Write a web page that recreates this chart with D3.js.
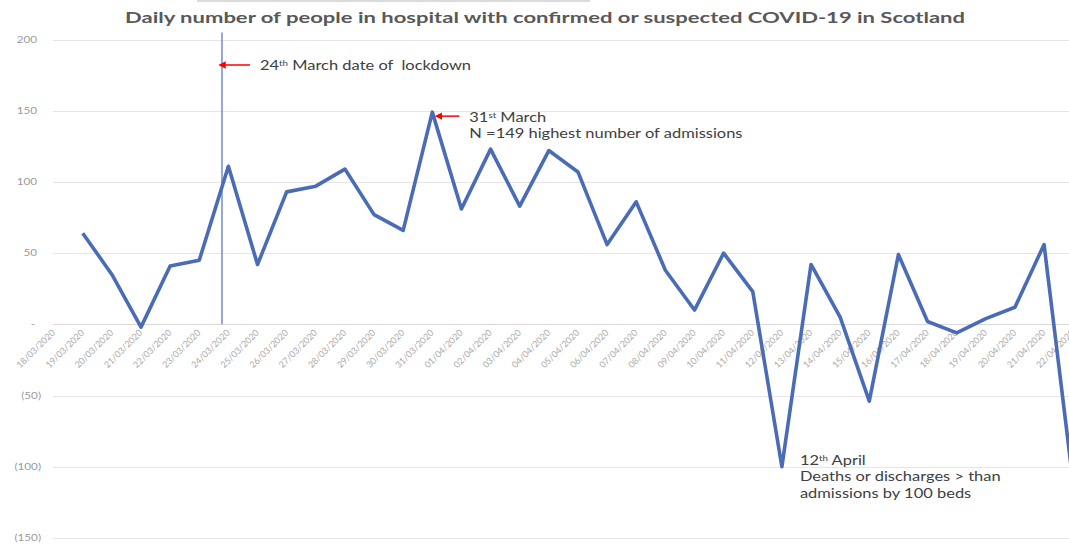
<!DOCTYPE html>
<html>
<head>
<meta charset="utf-8">
<script src="https://cdn.jsdelivr.net/npm/d3@7"></script>
<style>
  body { margin: 0; background: #fff; }
  svg { display: block; font-family: Lato, "Open Sans", sans-serif; }
</style>
</head>
<body>
<svg id="chart" width="1069" height="544"></svg>
<script>
// Dates on the category axis (18/03 has no value)
const dates = [
  '18/03/2020', '19/03/2020', '20/03/2020', '21/03/2020', '22/03/2020', '23/03/2020',
  '24/03/2020', '25/03/2020', '26/03/2020', '27/03/2020', '28/03/2020', '29/03/2020',
  '30/03/2020', '31/03/2020', '01/04/2020', '02/04/2020', '03/04/2020', '04/04/2020',
  '05/04/2020', '06/04/2020', '07/04/2020', '08/04/2020', '09/04/2020', '10/04/2020',
  '11/04/2020', '12/04/2020', '13/04/2020', '14/04/2020', '15/04/2020', '16/04/2020',
  '17/04/2020', '18/04/2020', '19/04/2020', '20/04/2020', '21/04/2020', '22/04/2020'
];

// Daily change in hospital beds
const beds = [
  null, 64, 35, -2, 41, 45,
  111, 42, 93, 97, 109, 77,
  66, 149, 81, 123, 83, 122,
  107, 56, 86, 38, 10, 50,
  23, -100, 42, 5, -54, 49,
  2, -6, 4, 12, 56, -112
];

const yTicks = [200, 150, 100, 50, 0, -50, -100, -150];

const svg = d3.select('#chart');
const W = 1069;
const PLOT_LEFT = 53;
const STRETCH = 1.22; // the source picture is stretched sideways

const x = d3.scalePoint()
  .domain(dates)
  .range([53.6, 1073.2]);

const y = d3.scaleLinear()
  .domain([-150, 200])
  .range([537.9, 39.5]);

// faint border remnant at the top
svg.append('line')
  .attr('x1', 197).attr('x2', 590)
  .attr('y1', 1).attr('y2', 1)
  .attr('stroke', '#cfcfcf')
  .attr('stroke-width', 1.5);

// Title
svg.append('text')
  .attr('x', 125)
  .attr('y', 23)
  .attr('textLength', 840)
  .attr('lengthAdjust', 'spacingAndGlyphs')
  .style('font-size', '16px')
  .style('font-weight', 'bold')
  .style('fill', '#595959')
  .text('Daily number of people in hospital with confirmed or suspected COVID-19 in Scotland');

// Gridlines
svg.append('g')
  .selectAll('line')
  .data(yTicks)
  .join('line')
  .attr('x1', PLOT_LEFT)
  .attr('x2', W)
  .attr('y1', d => Math.round(y(d)) + 0.5)
  .attr('y2', d => Math.round(y(d)) + 0.5)
  .attr('stroke', d => d === 0 ? '#d9d9d9' : '#e6e6e6')
  .attr('stroke-width', 1);

// Y labels, accounting-style format
const fmtY = d => d === 0 ? '-' : d < 0 ? `(${Math.abs(d)})` : `${d}`;
svg.append('g')
  .selectAll('text')
  .data(yTicks)
  .join('text')
  .attr('transform', d => `translate(${d === 0 ? 35 : d < 0 ? 41 : 37},${y(d)}) scale(1.3,1)`)
  .attr('dy', '0.35em')
  .attr('text-anchor', 'end')
  .style('font-size', '9px')
  .style('fill', '#9a9a9a')
  .text(fmtY);

// X labels rotated
svg.append('g')
  .selectAll('text')
  .data(dates)
  .join('text')
  .attr('transform', d => `translate(${x(d) + 2},${y(0) + 9}) rotate(-45)`)
  .attr('text-anchor', 'end')
  .style('font-size', '9px')
  .style('fill', '#ababab')
  .text(d => d);

// Lockdown marker line
const lockX = x('24/03/2020') - 0.22 * x.step();
svg.append('line')
  .attr('x1', lockX).attr('x2', lockX)
  .attr('y1', y(188) - 24).attr('y2', y(0))
  .attr('stroke', '#6f8fcf')
  .attr('stroke-width', 1.5);

// Data line
const line = d3.line()
  .defined(d => d != null)
  .x((d, i) => x(dates[i]))
  .y(d => y(d));

svg.append('path')
  .datum(beds)
  .attr('d', line)
  .attr('fill', 'none')
  .attr('stroke', '#4a6cb6')
  .attr('stroke-width', 3.6)
  .attr('stroke-linejoin', 'round');

// Red arrows
svg.append('defs').append('marker')
  .attr('id', 'arrow')
  .attr('viewBox', '0 0 10 10')
  .attr('refX', 1).attr('refY', 5)
  .attr('markerWidth', 5).attr('markerHeight', 5)
  .attr('orient', 'auto-start-reverse')
  .append('path')
  .attr('d', 'M0,0 L10,5 L0,10 z')
  .attr('fill', '#ff0000');

function arrow(x1, x2, yy) {
  svg.append('line')
    .attr('x1', x1).attr('x2', x2)
    .attr('y1', yy).attr('y2', yy)
    .attr('stroke', '#ff0000')
    .attr('stroke-width', 1.5)
    .attr('marker-start', 'url(#arrow)');
}

function note(x0, y0, lines) {
  const t = svg.append('text')
    .attr('transform', `translate(${x0},${y0}) scale(${STRETCH},1)`)
    .style('font-size', '13.5px')
    .style('white-space', 'pre')
    .style('fill', '#404040');
  lines.forEach((parts, i) => {
    parts.forEach((p, j) => {
      const ts = t.append('tspan').text(p.t);
      if (j === 0) ts.attr('x', 0).attr('dy', i === 0 ? 0 : 16.5);
      if (p.sup) ts.attr('baseline-shift', '40%').style('font-size', '8px');
    });
  });
}

// 24th March
const ly = 65;
arrow(lockX + 3, lockX + 28, ly);
note(lockX + 38, ly + 5, [[{ t: '24' }, { t: 'th', sup: true }, { t: ' March date of  lockdown' }]]);

// 31st March
const px = x('31/03/2020');
arrow(px + 9, px + 27, y(149) + 4);
note(px + 37, 121.5, [
  [{ t: '31' }, { t: 'st', sup: true }, { t: ' March' }],
  [{ t: 'N =149 highest number of admissions' }]
]);

// 12th April
const ax = x('12/04/2020');
note(ax + 18, 465, [
  [{ t: '12' }, { t: 'th', sup: true }, { t: ' April' }],
  [{ t: 'Deaths or discharges > than' }],
  [{ t: 'admissions by 100 beds' }]
]);
</script>
</body>
</html>
